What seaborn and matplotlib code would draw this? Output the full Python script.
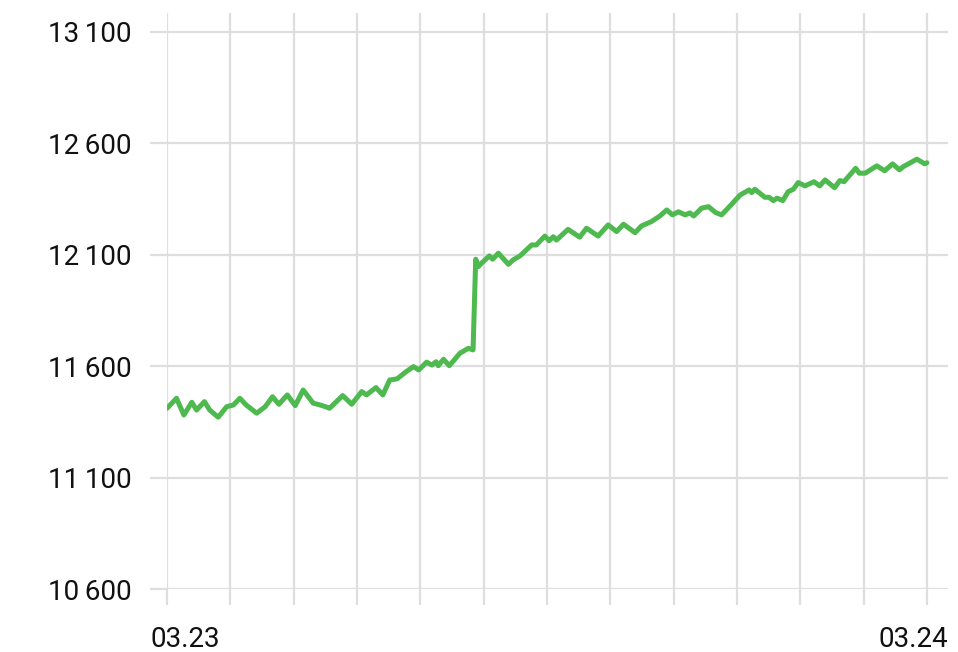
import numpy as np
import pandas as pd
import matplotlib.pyplot as plt
import matplotlib.transforms as mtransforms
import seaborn as sns

# minutes after 03.23 00:00 and the value
minutes = [0, 18, 32, 47, 56, 71, 81, 97, 113, 126, 138, 150, 170, 186, 200, 212, 228, 243,
           258, 277, 290, 303, 308, 333, 350, 369, 378, 396, 409, 422, 436, 453, 467, 477,
           492, 502, 510, 514, 524, 535, 555, 571, 580, 585, 590, 596, 611, 617, 628, 647,
           656, 669, 691, 700, 716, 724, 732, 738, 760, 782, 795, 817, 836, 852, 865, 887,
           899, 918, 934, 947, 958, 969, 982, 991, 998, 1013, 1026, 1040, 1051, 1067, 1086,
           1103, 1108, 1114, 1133, 1141, 1149, 1156, 1167, 1177, 1187, 1196, 1209, 1226,
           1237, 1247, 1265, 1275, 1283, 1305, 1312, 1323, 1345, 1360, 1375, 1388, 1395,
           1421, 1436, 1440]
values = [11411, 11456, 11381, 11438, 11403, 11441, 11403, 11371, 11418, 11426, 11456, 11426,
          11389, 11418, 11463, 11429, 11471, 11423, 11493, 11434, 11426, 11416, 11411, 11468,
          11429, 11486, 11471, 11504, 11471, 11538, 11543, 11575, 11598, 11583, 11618, 11605,
          11620, 11602, 11631, 11602, 11658, 11680, 11673, 12080, 12047, 12062, 12095, 12080,
          12107, 12057, 12077, 12095, 12144, 12144, 12184, 12163, 12181, 12166, 12214, 12179,
          12219, 12184, 12234, 12204, 12237, 12199, 12229, 12249, 12274, 12301, 12279, 12293,
          12279, 12288, 12274, 12309, 12316, 12289, 12279, 12319, 12368, 12391, 12379, 12394,
          12358, 12358, 12343, 12354, 12343, 12383, 12394, 12424, 12409, 12428, 12409, 12436,
          12401, 12433, 12428, 12488, 12466, 12466, 12499, 12477, 12508, 12481, 12495, 12529,
          12508, 12513]

y_ticks = [10600, 11100, 11600, 12100, 12600, 13100]
x_tick_hours = list(range(0, 25, 2))
x_tick_labels = ['03.23'] + [''] * 11 + ['03.24']

start = pd.Timestamp('2024-03-23 00:00')
df = pd.DataFrame({'time': start + pd.to_timedelta(minutes, unit='m'), 'value': values})

sns.set_theme(style='white')
plt.rcParams['font.family'] = ['Roboto', 'DejaVu Sans']

grid_col = '#dedede'
fig = plt.figure(figsize=(9.58, 6.52), dpi=100)
ax = fig.add_axes([167/958, 63/652, 781/958, 576/652])

sns.lineplot(data=df, x='time', y='value', ax=ax, color='#4DB94F', linewidth=3.6)

ax.set_xlim(start, start + pd.Timedelta(minutes=1480))
ax.set_ylim(10600, 13185)

ax.set_yticks(y_ticks)
ax.set_yticklabels([f'{v:,}'.replace(',', '\u2009') for v in y_ticks])
ax.set_xticks([start + pd.Timedelta(hours=h) for h in x_tick_hours])
ax.set_xticklabels(x_tick_labels)

ax.grid(True, color=grid_col, linewidth=1.6)
ax.tick_params(axis='both', colors=grid_col, width=1.6, labelcolor='#111111', labelsize=20,
               bottom=True, left=True)
ax.tick_params(axis='y', length=12.5, pad=13)
ax.tick_params(axis='x', length=11.5, pad=15)
for s in ax.spines.values():
    s.set_visible(False)
ax.set_xlabel('')
ax.set_ylabel('')

labels = ax.get_xticklabels()
labels[0].set_ha('left')
labels[0].set_transform(labels[0].get_transform() +
                        mtransforms.ScaledTranslation(-0.17, 0, fig.dpi_scale_trans))
labels[-1].set_ha('right')
labels[-1].set_transform(labels[-1].get_transform() +
                         mtransforms.ScaledTranslation(0.21, 0, fig.dpi_scale_trans))

plt.savefig('out.png', dpi=100)
plt.close()
